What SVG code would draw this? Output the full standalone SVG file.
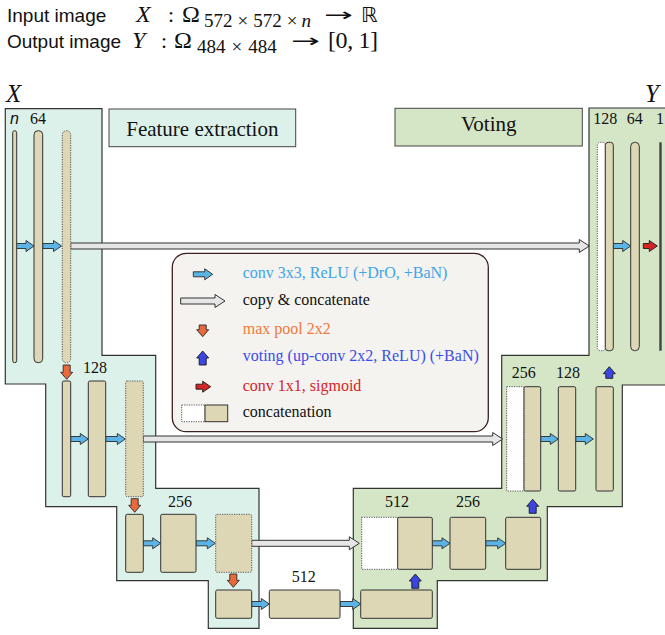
<svg xmlns="http://www.w3.org/2000/svg" width="665" height="635" viewBox="0 0 665 635">
<style>
.serif{font-family:"Liberation Serif","Times New Roman",serif;}
.sans{font-family:"Liberation Sans",Arial,sans-serif;}
.mi{font-family:"Liberation Serif","DejaVu Serif",serif;font-style:italic;}
.arr{font-family:"DejaVu Sans",sans-serif;}
.lbl{font-family:"Liberation Serif","Times New Roman",serif;font-size:16px;fill:#111;}
.regL{fill:#DCF1EA;stroke:#333;stroke-width:1.2;}
.regR{fill:#D5E6C7;stroke:#333;stroke-width:1.2;}
.bar{fill:#DDD7B5;stroke:#333;stroke-width:1;}
.dot{fill:#DDD7B5;stroke:#555;stroke-width:1;stroke-dasharray:1.2 1.2;}
.wdot{fill:#fff;stroke:#555;stroke-width:1;stroke-dasharray:1.2 1.2;}
.conv{fill:#5BB3E6;stroke:#2a2a2a;stroke-width:0.9;}
.pool{fill:#E8693A;stroke:#2a2a2a;stroke-width:0.9;}
.up{fill:#3B46E0;stroke:#1a1a1a;stroke-width:0.9;}
.sig{fill:#D42424;stroke:#1a1a1a;stroke-width:0.9;}
.copy{fill:#E6E6E6;stroke:#333;stroke-width:1;}
.lt{font-family:"Liberation Serif","Times New Roman",serif;font-size:16px;}
</style>

<!-- header -->
<g id="header">
<text class="sans" x="7" y="22" font-size="19" fill="#111">Input image</text>
<text class="mi" x="136" y="22" font-size="24" fill="#111">X</text>
<text class="serif" x="168" y="22" font-size="22" fill="#111">:</text>
<text class="serif" x="182" y="22" font-size="24" fill="#111">Ω</text>
<text class="serif" x="204" y="27" font-size="19" fill="#111">572<tspan dx="5">×</tspan><tspan dx="5">572</tspan><tspan dx="5">×</tspan><tspan dx="4" font-style="italic">n</tspan></text>
<text class="arr" x="324" y="21" font-size="18" fill="#111" textLength="29" lengthAdjust="spacingAndGlyphs">→</text>
<text font-family="DejaVu Sans, sans-serif" x="361" y="22" font-size="21" fill="#111">ℝ</text>
<text class="sans" x="7" y="48" font-size="19" fill="#111">Output image</text>
<text class="mi" x="132" y="48" font-size="24" fill="#111">Y</text>
<text class="serif" x="161" y="48" font-size="22" fill="#111">:</text>
<text class="serif" x="174" y="48" font-size="24" fill="#111">Ω</text>
<text class="serif" x="197" y="53" font-size="19" fill="#111">484<tspan dx="6">×</tspan><tspan dx="6">484</tspan></text>
<text class="arr" x="291" y="47" font-size="18" fill="#111" textLength="29" lengthAdjust="spacingAndGlyphs">→</text>
<text class="serif" x="328" y="48" font-size="24" fill="#111" textLength="50" lengthAdjust="spacing">[0, 1]</text>
</g>

<!-- regions -->
<g id="region-feature">
<polygon class="regL" points="5.3,108.7 102,108.7 102,355.3 155.7,355.3 155.7,488.3 259,488.3 259,628.3 208.3,628.3 208.3,580.7 116.7,580.7 116.7,506.7 45.7,506.7 45.7,384 5.3,384"/>
</g>
<g id="region-voting">
<polygon class="regR" points="589,108 668,108 668,385 622.3,385 622.3,506.7 547.3,506.7 547.3,580.7 437.3,580.7 437.3,628.3 353.3,628.3 353.3,488.3 501.7,488.3 501.7,355.3 589,355.3"/>
</g>

<g id="title-feature">
<rect x="109" y="109" width="186.7" height="37.7" fill="#DCF1EA" stroke="#444" stroke-width="1"/>
<text class="serif" x="202.3" y="136" font-size="21" text-anchor="middle" fill="#111">Feature extraction</text>
</g>
<g id="title-voting">
<rect x="395" y="108.3" width="187.3" height="37.7" fill="#D5E6C7" stroke="#444" stroke-width="1"/>
<text class="serif" x="488.7" y="131" font-size="21" text-anchor="middle" fill="#111">Voting</text>
</g>

<text class="mi" x="6" y="102" font-size="25" fill="#111">X</text>
<text class="mi" x="645" y="102" font-size="25" fill="#111">Y</text>

<!-- connectors -->
<g id="connectors">
<path class="copy" d="M70.7 243 H579.3 V239.5 L589.3 246 L579.3 252.5 V249 H70.7 Z"/>
<path class="copy" d="M143.3 436 H492.7 V432.5 L502.7 439 L492.7 445.5 V442 H143.3 Z"/>
<path class="copy" d="M251.7 540.3 H349.3 V536.8 L359.3 543.3 L349.3 549.8 V546.3 H251.7 Z"/>

<path class="conv" d="M15 243.5 H26 V240.5 L34 246 L26 251.5 V248.5 H15 Z"/>
<path class="conv" d="M42.7 243.5 H53.5 V240.5 L61.5 246 L53.5 251.5 V248.5 H42.7 Z"/>
<path class="conv" d="M70.7 436.5 H80.3 V433.5 L88.3 439 L80.3 444.5 V441.5 H70.7 Z"/>
<path class="conv" d="M105.7 436.5 H117.3 V433.5 L125.3 439 L117.3 444.5 V441.5 H105.7 Z"/>
<path class="conv" d="M143.3 540.8 H152.7 V537.8 L160.7 543.3 L152.7 548.8 V545.8 H143.3 Z"/>
<path class="conv" d="M196 540.8 H207.3 V537.8 L215.3 543.3 L207.3 548.8 V545.8 H196 Z"/>
<path class="conv" d="M251.7 601.5 H261.3 V598.5 L269.3 604 L261.3 609.5 V606.5 H251.7 Z"/>
<path class="conv" d="M340 601.5 H352.7 V598.5 L360.7 604 L352.7 609.5 V606.5 H340 Z"/>
<path class="conv" d="M432.3 540.8 H442 V537.8 L450 543.3 L442 548.8 V545.8 H432.3 Z"/>
<path class="conv" d="M485.7 540.8 H497.7 V537.8 L505.7 543.3 L497.7 548.8 V545.8 H485.7 Z"/>
<path class="conv" d="M540.7 436.5 H550.3 V433.5 L558.3 439 L550.3 444.5 V441.5 H540.7 Z"/>
<path class="conv" d="M575.7 436.5 H585.3 V433.5 L593.3 439 L585.3 444.5 V441.5 H575.7 Z"/>
<path class="conv" d="M613.3 243.5 H622.7 V240.5 L630.7 246 L622.7 251.5 V248.5 H613.3 Z"/>
<path class="sig" d="M643.3 243.5 H649.3 V240.5 L657.3 246 L649.3 251.5 V248.5 H643.3 Z"/>

<path class="pool" d="M63.2 365 H70.2 V372.3 H72.7 L66.7 379.3 L60.7 372.3 H63.2 Z"/>
<path class="pool" d="M131.2 498.7 H138.2 V505.3 H140.7 L134.7 512.3 L128.7 505.3 H131.2 Z"/>
<path class="pool" d="M229.8 574 H236.8 V580.3 H239.3 L233.3 587.3 L227.3 580.3 H229.8 Z"/>

<path class="up" d="M415.3 574 L421.3 581 H418.8 V588.3 H411.8 V581 H409.3 Z"/>
<path class="up" d="M532.7 499.3 L538.7 506.3 H536.2 V513.3 H529.2 V506.3 H526.7 Z"/>
<path class="up" d="M609.3 366.7 L615.3 373.7 H612.8 V378.3 H605.8 V373.7 H603.3 Z"/>
</g>

<!-- feature extraction nodes -->
<g id="enc1">
<rect class="bar" x="12.7" y="130.7" width="4" height="232" rx="2"/>
<rect class="bar" x="34" y="130.7" width="8.7" height="232" rx="4"/>
<rect class="dot" x="62.3" y="130.7" width="8.4" height="232" rx="4"/>
<text x="10" y="124" class="sans" font-size="16" font-style="italic" fill="#111">n</text>
<text x="30" y="124" class="lbl">64</text>
</g>
<g id="enc2">
<rect class="bar" x="62.3" y="381" width="8.4" height="115.7" rx="1.5"/>
<rect class="bar" x="88.3" y="381" width="17.4" height="115.7" rx="1.5"/>
<rect class="dot" x="125.7" y="381" width="17.6" height="115.7" rx="1.5"/>
<text x="83" y="372.7" class="lbl">128</text>
</g>
<g id="enc3">
<rect class="bar" x="125.7" y="514.3" width="17.6" height="58" rx="1.5"/>
<rect class="bar" x="160.7" y="514.3" width="35.3" height="58" rx="1.5"/>
<rect class="dot" x="215.7" y="514.3" width="36" height="58" rx="1.5"/>
<text x="168" y="506.7" class="lbl">256</text>
</g>
<g id="bottleneck">
<rect class="bar" x="215.7" y="590" width="36" height="28.3" rx="1.5"/>
<rect class="bar" x="269.3" y="590" width="70.7" height="28.3" rx="1.5"/>
<rect class="bar" x="360.7" y="590" width="71.6" height="28.3" rx="1.5"/>
<text x="291.7" y="581.7" class="lbl">512</text>
</g>
<!-- voting nodes -->
<g id="dec3">
<rect class="wdot" x="361.7" y="517.3" width="36" height="52"/>
<rect class="bar" x="397.7" y="517.3" width="34.6" height="52" rx="1.5"/>
<rect class="bar" x="450" y="517.3" width="35.7" height="52" rx="1.5"/>
<rect class="bar" x="505.7" y="517.3" width="35" height="52" rx="1.5"/>
<text x="385" y="506.7" class="lbl">512</text>
<text x="456" y="506.7" class="lbl">256</text>
</g>
<g id="dec2">
<rect class="wdot" x="506.7" y="386.7" width="17.3" height="104.3"/>
<rect class="bar" x="524" y="386.7" width="16.7" height="104.3" rx="1.5"/>
<rect class="bar" x="558.3" y="386.7" width="17.4" height="104.3" rx="1.5"/>
<rect class="bar" x="596" y="386.7" width="17.3" height="104.3" rx="1.5"/>
<text x="511.7" y="378.3" class="lbl">256</text>
<text x="556" y="378.3" class="lbl">128</text>
</g>
<g id="dec1">
<rect class="wdot" x="597.3" y="142.3" width="8" height="208.4" rx="3"/>
<rect class="bar" x="605.3" y="142.3" width="8" height="208.4" rx="3"/>
<rect class="bar" x="630.7" y="142.3" width="8.6" height="208.4" rx="4"/>
<rect x="659.3" y="142.3" width="2.4" height="208.4" fill="#444"/>
<text x="593.3" y="124" class="lbl">128</text>
<text x="626.7" y="124" class="lbl">64</text>
<text x="656" y="124" class="lbl">1</text>
</g>

<!-- legend -->
<g id="legend">
<rect x="172.3" y="253.3" width="316" height="178.4" rx="14" fill="#F4F3EF" stroke="#3B2020" stroke-width="1.3"/>
<path class="conv" d="M193.3 271.8 H204.7 V268.8 L212.7 274.3 L204.7 279.8 V276.8 H193.3 Z"/>
<text class="lt" x="242.7" y="278.3" fill="#3DA5E8">conv 3x3, ReLU (+DrO, +BaN)</text>
<path class="copy" d="M180.7 298 H215 V294.5 L225 301 L215 307.5 V304 H180.7 Z"/>
<text class="lt" x="242.7" y="305" fill="#111">copy &amp; concatenate</text>
<path class="pool" d="M199.2 325 H206.2 V329.7 H208.7 L202.7 336.7 L196.7 329.7 H199.2 Z"/>
<text class="lt" x="242.7" y="334.3" fill="#EE7A3C">max pool 2x2</text>
<path class="up" d="M202.7 351 L208.7 358 H206.2 V365 H199.2 V358 H196.7 Z"/>
<text class="lt" x="242.7" y="360.7" fill="#3B4CE8">voting (up-conv 2x2, ReLU) (+BaN)</text>
<path class="sig" d="M196 384.2 H202.7 V381.2 L210.7 386.7 L202.7 392.2 V389.2 H196 Z"/>
<text class="lt" x="242.7" y="390.7" fill="#D8232A">conv 1x1, sigmoid</text>
<rect class="wdot" x="181.7" y="405" width="23.3" height="16.7"/>
<rect class="bar" x="205" y="405" width="22.7" height="16.7"/>
<text class="lt" x="242.7" y="416.7" fill="#111">concatenation</text>
</g>
</svg>
